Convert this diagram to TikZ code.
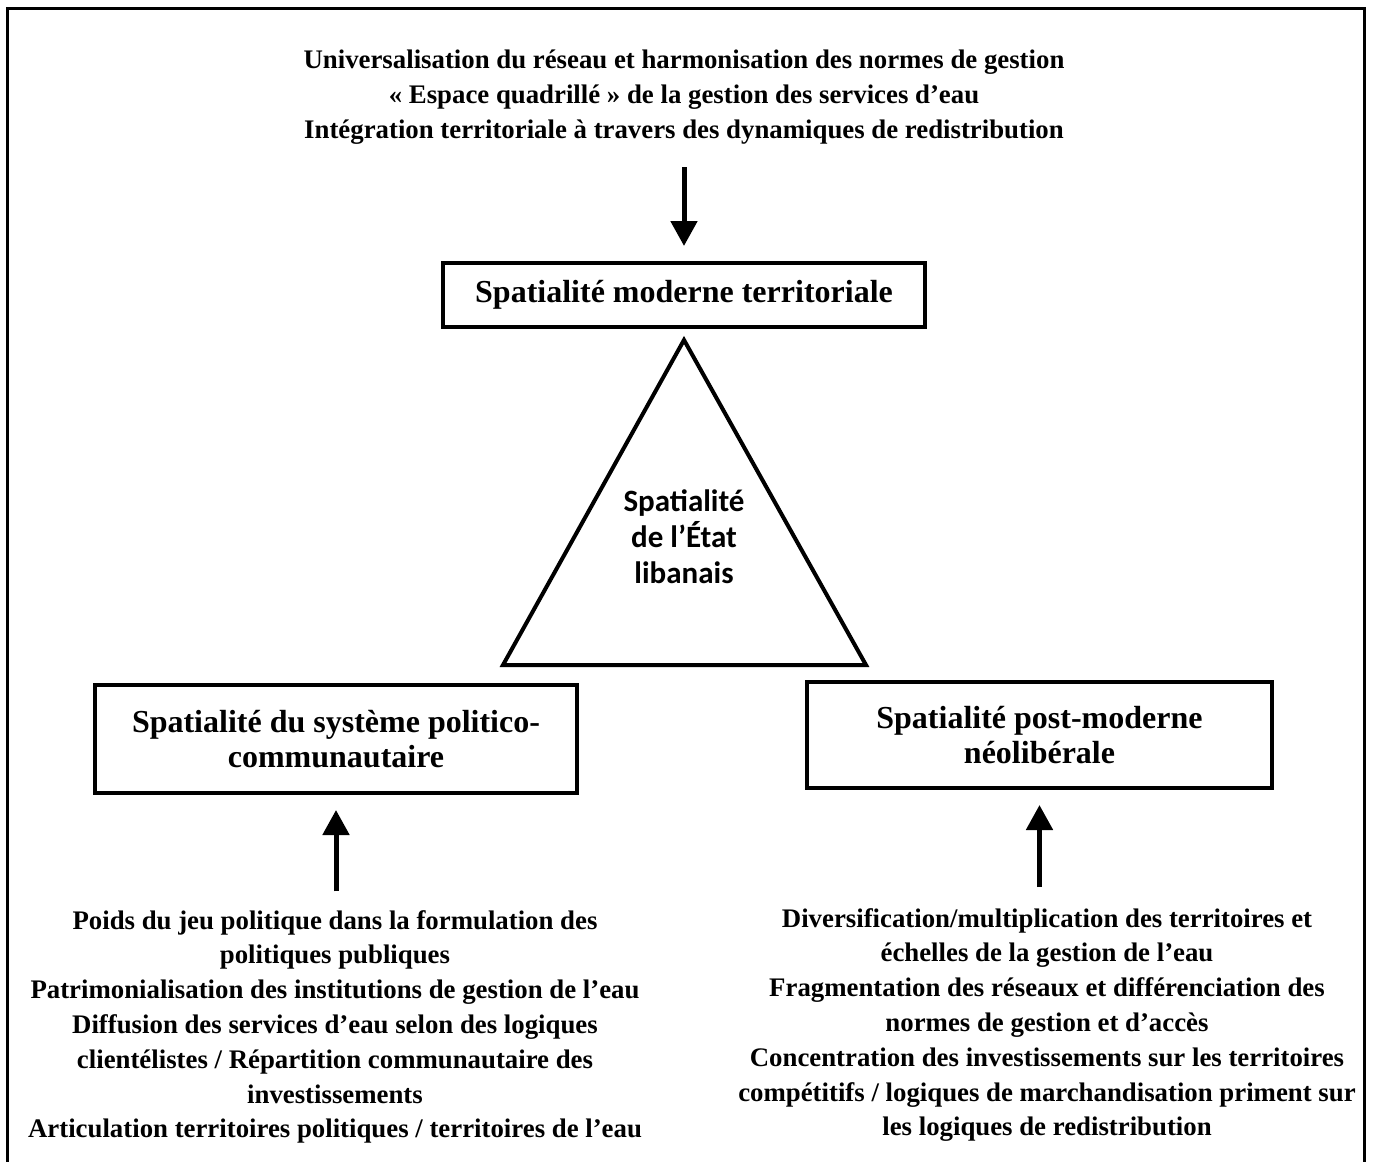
\documentclass[tikz,border=0pt]{standalone}
\usepackage{fontspec}
\setmainfont{Liberation Serif}
\newfontfamily\calibfont{Carlito}
\usetikzlibrary{arrows.meta}

\tikzset{
  notes/.style={align=center,font=\bfseries\fontsize{13.4}{17.4}\selectfont},
  spacebox/.style={draw,line width=2pt,align=center,inner sep=0pt,
    font=\bfseries\fontsize{16}{17.5}\selectfont},
  arr/.style={-{Triangle[width=13pt,length=12.5pt]},line width=2.5pt}
}

\begin{document}
\begin{tikzpicture}[x=0.5pt,y=-0.5pt]
\useasboundingbox (0,0) rectangle (1373,1162);

% frame, open at the bottom
\draw[line width=1.5pt] (7,1162)--(7,8)--(1364,8)--(1364,1162);

\node [notes] (topnotes) at (684,97) {Universalisation du réseau et harmonisation des normes de gestion\\
« Espace quadrillé » de la gestion des services d’eau\\
Intégration territoriale à travers des dynamiques de redistribution};

\node [spacebox,minimum width=241pt,minimum height=32pt] (modern) at (684,295) {Spatialité moderne territoriale};
\node [spacebox,minimum width=241pt,minimum height=54pt] (politic) at (336,739) {Spatialité du système politico-\\communautaire};
\node [spacebox,minimum width=232.5pt,minimum height=53pt] (neolib) at (1039.5,735) {Spatialité post-moderne\\néolibérale};

% triangle
\draw[line width=2pt] (684,340)--(866,665)--(503,665)--cycle;
\node [align=center,font=\calibfont\bfseries\fontsize{15.5}{18}\selectfont] (state) at (684,537) {Spatialité\\de l’État\\libanais};

\node [notes] (leftnotes) at (335,1027) {Poids du jeu politique dans la formulation des\\
politiques publiques\\
Patrimonialisation des institutions de gestion de l’eau\\
Diffusion des services d’eau selon des logiques\\
clientélistes / Répartition communautaire des\\
investissements\\
Articulation territoires politiques / territoires de l’eau};

\node [notes] (rightnotes) at (1047,1025) {Diversification/multiplication des territoires et\\
échelles de la gestion de l’eau\\
Fragmentation des réseaux et différenciation des\\
normes de gestion et d’accès\\
Concentration des investissements sur les territoires\\
compétitifs / logiques de marchandisation priment sur\\
les logiques de redistribution};

\draw[arr,shorten <=8pt,shorten >=7.5pt] (topnotes.south) -- (modern.north);
\draw[arr,shorten <=6pt,shorten >=7.5pt] (leftnotes.north -| politic.south) -- (politic.south);
\draw[arr,shorten <=7pt,shorten >=7.5pt] (rightnotes.north -| neolib.south) -- (neolib.south);

\end{tikzpicture}
\end{document}
